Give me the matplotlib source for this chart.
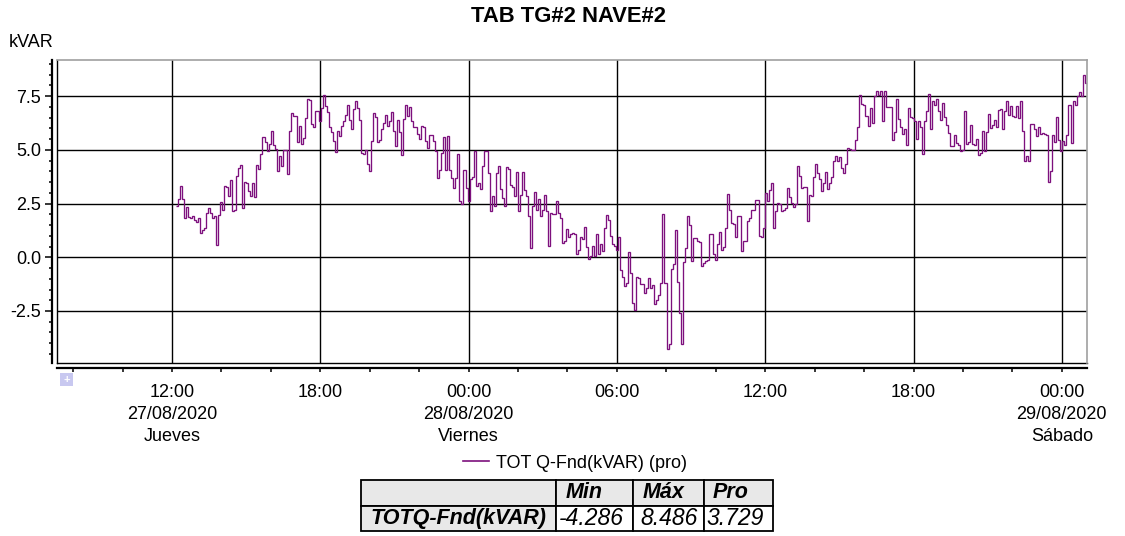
import pandas as pd
import matplotlib
matplotlib.use("Agg")
import matplotlib.pyplot as plt
import matplotlib.dates as mdates
from matplotlib.ticker import MultipleLocator, FuncFormatter
from matplotlib.lines import Line2D
from matplotlib.patches import Rectangle

# ---------------- data ----------------
TITLE = "TAB TG#2 NAVE#2"
UNIT = "kVAR"
SERIES = "TOT Q-Fnd(kVAR) (pro)"
START = "2020-08-27 12:10"      # first sample
END = "2020-08-29 01:00"        # end of last sample
X_FROM = "2020-08-27 07:21"
X_TO = "2020-08-29 01:01"
DAY_NAMES = {"27/08/2020": "Jueves", "28/08/2020": "Viernes", "29/08/2020": "Sábado"}
Y_TICKS = [-2.5, 0.0, 2.5, 5.0, 7.5]

# kVAR, ~5 min steps
q_fnd = [
    2.38, 2.73, 3.31, 2.73, 1.83, 2.35, 1.88, 1.83, 1.91, 1.73,
    1.63, 1.83, 1.14, 1.29, 1.34, 2.04, 2.30, 2.07, 1.83, 1.94,
    0.55, 1.99, 2.58, 2.18, 3.31, 3.26, 2.84, 3.58, 2.14, 2.22,
    3.77, 4.16, 4.31, 2.30, 3.51, 3.46, 3.07, 2.84, 3.46, 2.81,
    4.31, 4.11, 4.81, 5.58, 5.36, 4.93, 5.27, 5.86, 5.24, 5.04,
    4.03, 4.70, 4.23, 5.01, 4.98, 3.89, 5.86, 6.71, 6.56, 6.56,
    5.36, 6.09, 5.27, 5.55, 6.48, 7.36, 7.33, 6.20, 6.05, 6.79,
    6.79, 6.36, 6.94, 7.53, 7.02, 6.76, 6.05, 5.83, 5.43, 4.90,
    5.86, 5.63, 6.09, 6.32, 6.60, 7.07, 6.40, 5.98, 6.91, 7.25,
    6.94, 6.40, 4.85, 4.81, 5.01, 4.34, 4.03, 5.43, 6.71, 6.51,
    5.36, 5.47, 5.98, 6.25, 6.60, 6.12, 6.32, 6.76, 5.89, 5.16,
    6.40, 5.83,
    4.78, 6.43, 7.07, 6.56, 6.99, 6.32, 6.05, 6.05, 5.74, 5.50,
    6.09, 6.05, 5.40, 5.09, 5.67, 5.71, 5.43, 4.93, 3.69, 4.08,
    4.85, 5.60, 4.08, 5.63, 4.08, 3.69, 3.23, 3.69, 4.81, 2.64,
    2.49, 4.05, 3.23, 2.61, 3.62, 3.75, 4.93, 3.31, 3.46, 3.18,
    4.23, 4.93, 4.93, 3.92, 2.14, 2.84, 2.38, 3.92, 4.27, 3.18,
    2.76, 2.38, 4.19, 4.13, 3.38, 3.26, 2.84, 3.97, 2.14, 2.89,
    3.96, 3.15, 2.84, 1.91, 0.41, 2.38, 3.04, 2.22, 2.69, 1.91,
    2.22, 2.92, 2.14, 0.52, 2.07, 2.02, 2.02, 2.61, 2.07, 1.83,
    0.67, 0.75, 1.32, 0.94, 1.06, 1.14, 1.06, 0.16, 0.36, 0.94,
    0.83, 1.40, 0.47, -0.10, 0.05, 0.52, 0.05, 1.06, 0.16, 0.63,
    0.29, 1.37, 1.99, 1.73, 0.98, 0.63, 0.52, 0.36, 0.94, -0.61,
    -0.92, -1.34, -1.18, 0.26,
    -0.72, -2.11, -2.47, -0.92, -0.95, -1.23, -1.26, -1.65, -1.42, -0.98,
    -1.42, -1.31, -2.19, -2.00, -1.76, -1.18, 2.02, -1.18, -4.286, -4.02,
    -0.56, -0.30, 1.25, -1.15, -2.58, -4.02, -0.21, 0.41, 1.91, 1.48,
    -0.18, 0.91, 0.88, 0.75, 0.72, -0.41, -0.26, -0.18, -0.15, 1.06,
    1.06, 0.13, -0.15, 0.60, 1.19, 0.33, 0.47, 1.37, 2.95, 2.18,
    1.60, 1.56, 0.94, 1.91, 1.91, 0.29, 0.78, 0.75, 1.68, 1.83,
    2.22, 2.18, 2.66, 2.66, 0.98, 0.94, 1.37, 3.00, 2.61, 3.15,
    3.46, 1.34, 2.14, 2.53, 2.49, 2.14, 2.18, 2.30, 3.23, 2.79,
    2.53, 2.33, 2.49, 4.23, 3.77, 3.23, 3.26, 3.26, 1.68, 2.92,
    2.84, 3.72, 4.34, 3.92, 3.62, 3.10, 3.46, 3.97, 3.20, 3.46,
    3.72, 4.50, 4.70, 4.50, 4.65, 4.16, 3.92, 4.34, 5.09, 5.05,
    5.01, 5.01, 5.47, 6.05,
    7.53, 7.13, 7.10, 6.56, 6.09, 6.94, 6.25, 7.49, 7.72, 7.53,
    7.72, 6.36, 7.72, 6.97, 6.97, 6.97, 5.47, 5.83, 7.36, 6.45,
    6.05, 5.74, 5.98, 5.21, 6.94, 6.51, 6.48, 6.36, 5.52, 6.36,
    6.05, 4.81, 6.32, 6.82, 7.59, 5.98, 7.25, 7.10, 7.38, 6.82,
    6.40, 7.18, 6.51, 6.14, 5.78, 5.16, 5.16, 5.71, 5.32, 5.21,
    4.96, 5.01, 6.82, 5.27, 5.36, 6.14, 5.27, 5.21, 5.52, 4.78,
    4.85, 5.86, 4.96, 5.83, 6.66, 6.01, 6.17, 6.40, 6.05, 6.87,
    6.91, 5.98, 6.82, 7.25, 6.63, 7.02, 6.59, 6.51, 7.02, 6.48,
    7.25, 5.89, 4.50, 4.70, 4.50, 6.20, 6.20, 5.98, 5.66, 6.05,
    5.74, 5.78, 5.74, 5.71, 3.49, 4.03, 5.71, 5.36, 6.53, 5.47,
    4.93, 5.43, 5.24, 5.71, 7.10, 5.32, 7.25, 7.07, 7.49, 7.69,
    7.49, 8.486, 8.10,
]

TABLE_HEAD = ["", "Min", "Máx", "Pro"]
TABLE_ROW = ["TOTQ-Fnd(kVAR)", "-4.286", "8.486", "3.729"]

# ---------------- style ----------------
PURPLE = "#7d107d"
FONT = ["Liberation Sans", "DejaVu Sans"]
plt.rcParams["font.family"] = FONT
plt.rcParams["font.size"] = 13

W, H = 1125, 536
fig = plt.figure(figsize=(W / 100, H / 100), dpi=100)
ax = fig.add_axes([57 / W, 1 - 363 / H, (1087 - 57) / W, (363 - 60) / H])

edges = pd.date_range(START, END, periods=len(q_fnd) + 1)
ax.stairs(q_fnd, mdates.date2num(edges), baseline=None, color=PURPLE, lw=0.95)
ax.xaxis_date()

ax.set_xlim(mdates.date2num(pd.Timestamp(X_FROM)), mdates.date2num(pd.Timestamp(X_TO)))
ax.set_ylim(-4.92, 9.18)

# y axis
ax.set_yticks(Y_TICKS)
ax.yaxis.set_major_formatter(FuncFormatter(lambda v, p: f"{v:.1f}"))
ax.yaxis.set_minor_locator(MultipleLocator(0.5))

# x axis
ax.xaxis.set_major_locator(mdates.HourLocator(byhour=[0, 6, 12, 18]))
ax.xaxis.set_minor_locator(mdates.HourLocator(byhour=range(0, 24, 2)))


def xfmt(x, pos):
    d = mdates.num2date(x)
    lab = d.strftime("%H:%M")
    if d.hour == 0 or pos == 0:
        day = d.strftime("%d/%m/%Y")
        lab += f"\n{day}\n{DAY_NAMES.get(day, '')}"
    return lab


ax.xaxis.set_major_formatter(FuncFormatter(xfmt))

ax.grid(True, which="major", color="black", lw=1.0)
ax.set_axisbelow(True)

ax.tick_params(axis="y", which="major", direction="out", length=5, width=1.1,
               pad=3, labelsize=13)
ax.tick_params(axis="y", which="minor", direction="out", length=2.4, width=1.1)
ax.tick_params(axis="x", which="both", direction="out", length=3, width=1.1)
ax.tick_params(axis="x", which="major", pad=8.5, labelsize=13)

for sp in ["top", "right"]:
    ax.spines[sp].set_color("#a0a0a0")
    ax.spines[sp].set_linewidth(1.2)
for sp in ["left", "bottom"]:
    ax.spines[sp].set_position(("outward", 3.5))
    ax.spines[sp].set_linewidth(1.6)
# inner frame on left/bottom
ax.add_line(Line2D([0, 0], [0, 1], transform=ax.transAxes, color="black", lw=1.0, clip_on=False))
ax.add_line(Line2D([0, 1], [0, 0], transform=ax.transAxes, color="black", lw=1.0, clip_on=False))

fig.canvas.draw()
for t in ax.get_xticklabels():
    t.set_linespacing(1.38)

# title / unit
fig.text(568 / W, 1 - 17 / H, TITLE, ha="center", va="center", fontsize=15.8,
         fontweight="bold")
fig.text(9 / W, 1 - 47 / H, UNIT, ha="left", va="baseline", fontsize=13)

# small lock icon under the axis corner
fig.patches.append(Rectangle((60 / W, 1 - 386 / H), 13 / W, 13 / H, transform=fig.transFigure,
                             facecolor="#c8c8f0", edgecolor="none"))
fig.text(66.5 / W, 1 - 380 / H, "+", color="white", ha="center", va="center",
         fontsize=8, fontweight="bold")

# legend
fig.legend(handles=[Line2D([], [], color=PURPLE, lw=1.2)], labels=[SERIES],
           loc="center", bbox_to_anchor=(575 / W, 1 - 463 / H), frameon=False,
           fontsize=13, handlelength=1.4, handletextpad=0.4)

# stats table
tax = fig.add_axes([361 / W, 1 - 531 / H, (773 - 361) / W, (531 - 480) / H])
tax.axis("off")
tbl = tax.table(cellText=[TABLE_HEAD, TABLE_ROW],
                colWidths=[195 / 412, 77 / 412, 71 / 412, 69 / 412],
                cellLoc="left", bbox=[0, 0, 1, 1])
tbl.auto_set_font_size(False)
pads = {(0, 1): 0.12, (0, 2): 0.13, (0, 3): 0.12,
        (1, 0): 0.05, (1, 1): 0.04, (1, 2): 0.1, (1, 3): 0.04}
for (r, c), cell in tbl.get_celld().items():
    cell.set_linewidth(1.3)
    cell.set_edgecolor("black")
    cell.PAD = pads.get((r, c), 0.05)
    gray = r == 0 or c == 0
    cell.set_facecolor("#e8e8e8" if gray else "white")
    cell.get_text().set_fontsize(15.5 if gray else 16.5)
    cell.get_text().set_fontstyle("italic")
    if gray:
        cell.get_text().set_fontweight("bold")

fig.savefig("out.png", dpi=100)
